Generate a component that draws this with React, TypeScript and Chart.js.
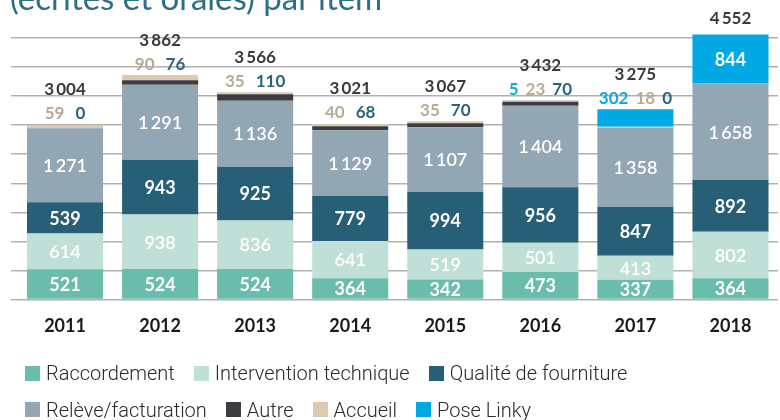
import React, { useEffect, useRef } from "react";
import { Chart, registerables } from "chart.js";

Chart.register(...registerables);

// ---------- data ----------
const YEARS = ["2011", "2012", "2013", "2014", "2015", "2016", "2017", "2018"];
const RACCORDEMENT = [521, 524, 524, 364, 342, 473, 337, 364];
const INTERVENTION = [614, 938, 836, 641, 519, 501, 413, 802];
const QUALITE = [539, 943, 925, 779, 994, 956, 847, 892];
const RELEVE = [1271, 1291, 1136, 1129, 1107, 1404, 1358, 1658];
const AUTRE: (number | null)[] = [0, 76, 110, 68, 70, 70, 0, null];
const ACCUEIL: (number | null)[] = [59, 90, 35, 40, 35, 23, 18, null];
const LINKY: (number | null)[] = [null, null, null, null, null, 5, 302, 844];
const TOTALS = [3004, 3862, 3566, 3021, 3067, 3432, 3275, 4552];
const Y_MAX = 4500;
const Y_STEP = 500;
const TITLE = "(écrites et orales) par item";

const SERIES = [
  { label: "Raccordement", data: RACCORDEMENT, color: "#6abcab", inside: true, weight: "bold" },
  { label: "Intervention technique", data: INTERVENTION, color: "#c0e0d7", inside: true, weight: "600" },
  { label: "Qualité de fourniture", data: QUALITE, color: "#265f76", inside: true, weight: "bold" },
  { label: "Relève/facturation", data: RELEVE, color: "#93a6b4", inside: true, weight: "600" },
  { label: "Autre", data: AUTRE, color: "#3b3d43", inside: false, weight: "bold" },
  { label: "Accueil", data: ACCUEIL, color: "#dcc9b0", inside: false, weight: "bold" },
  { label: "Pose Linky", data: LINKY, color: "#00a9e3", inside: true, weight: "bold" },
];

const INSIDE_MIN = 400;
const AUTRE_LABEL = "#29657a";
const ACCUEIL_LABEL = "#b8aa97";
const LINKY_LABEL = "#12a7e0";
const TOTAL_LABEL = "#3a3a3c";

const fmt = (v: number) =>
  v >= 1000 ? `${Math.floor(v / 1000)}\u2009${String(v % 1000).padStart(3, "0")}` : String(v);

const labelsPlugin = {
  id: "segLabels",
  afterDatasetsDraw(chart: any) {
    const ctx = chart.ctx as CanvasRenderingContext2D;
    const yScale = chart.scales.y;
    const xScale = chart.scales.x;
    ctx.save();
    ctx.textAlign = "center";
    ctx.textBaseline = "middle";
    // labels inside segments
    chart.data.datasets.forEach((ds: any, di: number) => {
      const s = SERIES[di];
      if (!s.inside) return;
      const meta = chart.getDatasetMeta(di);
      meta.data.forEach((el: any, i: number) => {
        const v = ds.data[i];
        if (v == null || v < (di === 6 ? INSIDE_MIN : 0)) return;
        const p = el.getProps(["x", "y", "base"], true);
        ctx.font = `${s.weight} 18px Lato`;
        ctx.fillStyle = "#ffffff";
        ctx.fillText(fmt(v), p.x, (p.y + p.base) / 2 + 1);
      });
    });
    // labels above bars
    YEARS.forEach((_, i) => {
      const x = xScale.getPixelForValue(i);
      let sum = 0;
      SERIES.forEach((s) => {
        const v = s.data[i];
        if (v != null) sum += v;
      });
      const top = yScale.getPixelForValue(sum);
      const items: { t: string; c: string }[] = [];
      const lk = LINKY[i];
      if (lk != null && lk < INSIDE_MIN) items.push({ t: fmt(lk), c: LINKY_LABEL });
      const ac = ACCUEIL[i];
      if (ac != null) items.push({ t: fmt(ac), c: ACCUEIL_LABEL });
      const au = AUTRE[i];
      if (au != null) items.push({ t: fmt(au), c: AUTRE_LABEL });
      ctx.font = "bold 17px Lato";
      let totalY = top - 16;
      if (items.length) {
        const gap = items.length > 2 ? 7 : 11;
        const widths = items.map((it) => ctx.measureText(it.t).width);
        const full = widths.reduce((a, b) => a + b, 0) + gap * (items.length - 1);
        let cx = x - full / 2;
        ctx.textAlign = "left";
        items.forEach((it, k) => {
          ctx.fillStyle = it.c;
          ctx.fillText(it.t, cx, top - 11);
          cx += widths[k] + gap;
        });
        ctx.textAlign = "center";
        totalY = top - 35;
      }
      ctx.fillStyle = TOTAL_LABEL;
      ctx.fillText(fmt(TOTALS[i]), x, totalY);
    });
    ctx.restore();
  },
};

export default function App() {
  const ref = useRef<HTMLCanvasElement>(null);
  useEffect(() => {
    const chart = new Chart(ref.current as HTMLCanvasElement, {
      type: "bar",
      data: {
        labels: YEARS,
        datasets: SERIES.map((s) => ({
          label: s.label,
          data: s.data as any,
          backgroundColor: s.color,
          borderWidth: 0,
          barPercentage: 0.8,
          categoryPercentage: 1,
          clip: false as any,
        })),
      },
      options: {
        responsive: false,
        animation: false,
        layout: { padding: { left: 11, right: 2, top: 38, bottom: 17 } },
        plugins: { legend: { display: false }, tooltip: { enabled: false }, title: { display: false } },
        scales: {
          x: {
            stacked: true,
            grid: { display: false },
            border: { display: false },
            ticks: { color: "#1a1a1a", font: { family: "Lato", size: 18, weight: "bold" }, padding: 8 },
          },
          y: {
            stacked: true,
            min: 0,
            max: Y_MAX,
            border: { display: false },
            grid: { color: "#b0b0b0", lineWidth: 1.4, drawTicks: true, tickLength: 6.5 },
            ticks: { display: false, stepSize: Y_STEP },
          },
        },
      },
      plugins: [labelsPlugin],
    });
    return () => chart.destroy();
  }, []);

  return (
    <div
      style={{
        position: "absolute",
        left: 0,
        top: 0,
        width: 780,
        height: 420,
        overflow: "hidden",
        background: "#ffffff",
      }}
    >
      <canvas ref={ref} width={780} height={362} style={{ position: "absolute", left: 0, top: 0 }} />
      <div
        style={{
          position: "absolute",
          left: 10,
          top: -23,
          font: "400 33px Lato",
          lineHeight: "40px",
          color: "#2b6e86",
          whiteSpace: "nowrap",
        }}
      >
        {TITLE}
      </div>
      <div
        style={{
          position: "absolute",
          left: 25,
          top: 355,
          width: 720,
          display: "flex",
          flexWrap: "wrap",
        }}
      >
        {SERIES.map((s) => (
          <div
            key={s.label}
            style={{ display: "flex", alignItems: "center", height: 36.5, marginRight: 19 }}
          >
            <span style={{ width: 15, height: 15, background: s.color, marginRight: 6, display: "inline-block" }} />
            <span style={{ font: "300 20px Roboto", color: "#2a2a2a", whiteSpace: "nowrap" }}>{s.label}</span>
          </div>
        ))}
      </div>
    </div>
  );
}
